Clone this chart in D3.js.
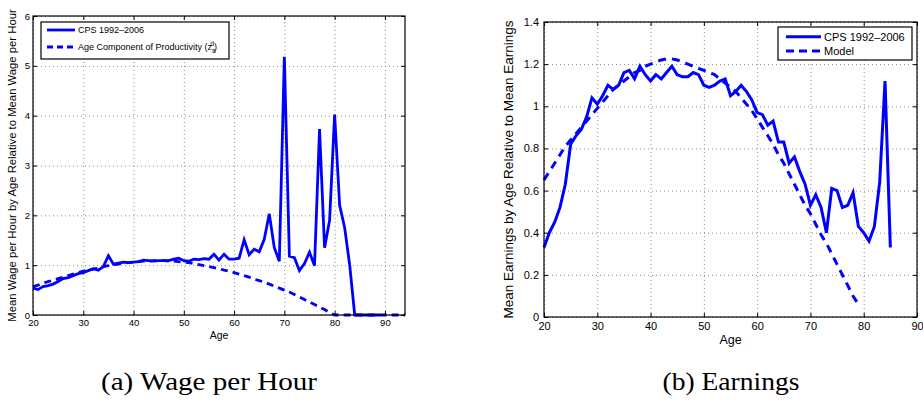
<!DOCTYPE html>
<html lang="en">
<head>
<meta charset="UTF-8">
<title>Wage and earnings by age</title>
<script src="https://d3js.org/d3.v7.min.js"></script>
<style>
  body { margin: 0; background: #fff; }
  svg text { font-family: "Liberation Sans", Arial, sans-serif; fill: #000; }
  .grid line { stroke: #8c8c8c; stroke-dasharray: 1,3; stroke-width: 1; }
  .grid path { display: none; }
  .ax path { display: none; }
  .ax line { stroke: #000; }
  .caption { font-family: "Liberation Serif", "Times New Roman", serif; font-size: 26px; }
</style>
</head>
<body>
<svg width="923" height="400"></svg>
<script>
// ---- data ----
// (a) wage per hour, CPS 1992-2006, ages 20..89
const wageCpsAges = d3.range(20, 90);
const wageCps = [0.54,0.51,0.57,0.59,0.62,0.67,0.73,0.75,0.79,0.83,
                 0.85,0.89,0.93,0.90,0.97,1.19,1.02,1.04,1.06,1.05,
                 1.06,1.07,1.10,1.09,1.08,1.09,1.09,1.09,1.12,1.14,
                 1.09,1.08,1.12,1.11,1.13,1.12,1.22,1.10,1.22,1.12,
                 1.12,1.14,1.51,1.21,1.32,1.27,1.52,2.03,1.35,1.08,
                 5.18,1.18,1.15,0.89,1.03,1.26,0.99,3.73,1.35,1.90,
                 4.02,2.20,1.75,1.00,0.00,0.00,0.00,0.00,0.00,0.00];
// age component of productivity, ages 20..94
const wageModelAges = d3.range(20, 95);
const wageModel = [0.57,0.60,0.64,0.67,0.70,0.73,0.76,0.79,0.82,0.85,
                   0.88,0.90,0.92,0.94,0.97,0.99,1.01,1.02,1.04,1.05,
                   1.06,1.07,1.08,1.08,1.09,1.09,1.09,1.08,1.08,1.07,
                   1.06,1.05,1.03,1.01,0.99,0.97,0.95,0.93,0.90,0.88,
                   0.85,0.82,0.79,0.76,0.72,0.69,0.66,0.62,0.58,0.54,
                   0.50,0.46,0.41,0.36,0.31,0.26,0.21,0.16,0.11,0.05,
                   0,0,0,0,0,0,0,0,0,0,0,0,0,0,0];
// (b) earnings, CPS 1992-2006, ages 20..85
const earnCpsAges = d3.range(20, 86);
const earnCps = [0.33,0.40,0.45,0.52,0.63,0.82,0.86,0.89,0.95,1.04,
                 1.01,1.05,1.10,1.08,1.10,1.16,1.17,1.13,1.19,1.15,
                 1.12,1.15,1.13,1.16,1.19,1.15,1.14,1.14,1.16,1.15,
                 1.10,1.09,1.10,1.12,1.13,1.05,1.07,1.10,1.07,1.03,
                 0.97,0.96,0.91,0.93,0.83,0.83,0.73,0.76,0.69,0.63,
                 0.53,0.58,0.52,0.40,0.61,0.60,0.52,0.53,0.59,0.43,
                 0.40,0.36,0.43,0.64,1.12,0.33];
// model earnings, ages 20..79
const earnModelAges = d3.range(20, 80);
const earnModel = [0.65,0.69,0.73,0.77,0.81,0.84,0.87,0.90,0.93,0.96,
                   0.99,1.02,1.05,1.08,1.10,1.12,1.14,1.16,1.17,1.19,
                   1.20,1.21,1.22,1.225,1.225,1.22,1.21,1.20,1.19,1.18,
                   1.17,1.16,1.15,1.13,1.11,1.09,1.07,1.04,1.01,0.98,
                   0.94,0.90,0.86,0.82,0.77,0.73,0.68,0.63,0.58,0.53,
                   0.49,0.44,0.39,0.35,0.30,0.25,0.20,0.15,0.10,0.06];

const xTicks = [20, 30, 40, 50, 60, 70, 80, 90];
const wageYTicks = [0, 1, 2, 3, 4, 5, 6];
const earnYTicks = [0, 0.2, 0.4, 0.6, 0.8, 1, 1.2, 1.4];

const svg = d3.select("svg");
const blue = "#0000ff";

function panel(o) {
  const x = d3.scaleLinear().domain(o.xDomain).range([o.left, o.right]);
  const y = d3.scaleLinear().domain(o.yDomain).range([o.bottom, o.top]);
  const w = o.right - o.left, h = o.bottom - o.top;
  const g = svg.append("g");

  // dotted grid
  g.append("g").attr("class", "grid")
    .attr("transform", `translate(0,${o.bottom})`)
    .call(d3.axisBottom(x).tickValues(o.xTicks).tickSize(-h).tickFormat(""));
  g.append("g").attr("class", "grid")
    .attr("transform", `translate(${o.left},0)`)
    .call(d3.axisLeft(y).tickValues(o.yTicks).tickSize(-w).tickFormat(""));

  // lines
  const line = d3.line().x(d => x(d[0])).y(d => y(d[1]));
  g.append("path").attr("d", line(d3.zip(o.modelAges, o.model)))
    .attr("fill", "none").attr("stroke", blue).attr("stroke-width", o.lw)
    .attr("stroke-dasharray", o.dash);
  g.append("path").attr("d", line(d3.zip(o.cpsAges, o.cps)))
    .attr("fill", "none").attr("stroke", blue).attr("stroke-width", o.lw)
    .attr("stroke-linejoin", "miter");

  // axes with inward ticks
  const fmt = d3.format("~g");
  const xb = g.append("g").attr("class", "ax").attr("transform", `translate(0,${o.bottom})`)
    .call(d3.axisBottom(x).tickValues(o.xTicks).tickSize(-4).tickPadding(o.xPad).tickFormat(fmt));
  xb.selectAll("text").style("font-size", o.tickFont + "px");
  const yl = g.append("g").attr("class", "ax").attr("transform", `translate(${o.left},0)`)
    .call(d3.axisLeft(y).tickValues(o.yTicks).tickSize(-4).tickPadding(o.yPad).tickFormat(fmt));
  yl.selectAll("text").style("font-size", o.tickFont + "px");
  g.append("g").attr("class", "ax").attr("transform", `translate(0,${o.top})`)
    .call(d3.axisTop(x).tickValues(o.xTicks).tickSize(-4).tickFormat(""));
  g.append("g").attr("class", "ax").attr("transform", `translate(${o.right},0)`)
    .call(d3.axisRight(y).tickValues(o.yTicks).tickSize(-4).tickFormat(""));

  g.append("rect").attr("x", o.left).attr("y", o.top).attr("width", w).attr("height", h)
    .attr("fill", "none").attr("stroke", "#000").attr("stroke-width", 1.2);

  // axis titles
  g.append("text").attr("x", (o.left + o.right) / 2).attr("y", o.xLabelY)
    .attr("text-anchor", "middle").style("font-size", o.labelFont + "px").text("Age");
  g.append("text").attr("transform", `translate(${o.yLabelX},${(o.top + o.bottom) / 2}) rotate(-90)`)
    .attr("text-anchor", "middle").style("font-size", o.yLabelFont + "px").text(o.yLabel);

  // legend
  const L = o.legend;
  const lg = g.append("g");
  lg.append("rect").attr("x", L.x).attr("y", L.y).attr("width", L.w).attr("height", L.h)
    .attr("fill", "#fff").attr("stroke", "#000").attr("stroke-width", 1.2);
  L.rows.forEach((r, i) => {
    const yy = L.y + L.first + i * L.step;
    lg.append("line").attr("x1", L.x + L.l0).attr("x2", L.x + L.l1)
      .attr("y1", yy).attr("y2", yy).attr("stroke", blue).attr("stroke-width", o.lw)
      .attr("stroke-dasharray", r.dashed ? L.dash : null);
    const t = lg.append("text").attr("x", L.x + L.tx).attr("y", yy + L.font * 0.36)
      .style("font-size", L.font + "px");
    r.parts.forEach(p => {
      const s = t.append("tspan").text(p.t);
      if (p.dy) s.attr("dy", p.dy);
      if (p.small) s.style("font-size", (L.font * 0.7) + "px");
      if (p.dx) s.attr("dx", p.dx);
    });
  });

  svg.append("text").attr("class", "caption").attr("x", o.capX).attr("y", 390)
    .attr("text-anchor", "middle")
    .attr("textLength", o.capW).attr("lengthAdjust", "spacingAndGlyphs")
    .text(o.caption);
}

panel({
  xDomain: [20, 94], yDomain: [0, 6], left: 33, right: 405, top: 16, bottom: 315,
  xTicks: xTicks, yTicks: wageYTicks, tickFont: 9.5, xPad: 4, yPad: 3,
  cpsAges: wageCpsAges, cps: wageCps, modelAges: wageModelAges, model: wageModel,
  lw: 2.8, dash: "7,5",
  labelFont: 10.5, xLabelY: 339, yLabelX: 16, yLabelFont: 11.3,
  yLabel: "Mean Wage per Hour by Age Relative to Mean Wage per Hour",
  legend: { x: 41, y: 22, w: 188, h: 37, first: 8, step: 17, l0: 6, l1: 34, tx: 37, font: 9, dash: "6,4",
    rows: [ { parts: [{ t: "CPS 1992\u20132006" }] },
            { dashed: true, parts: [{ t: "Age Component of Productivity (z" },
                                    { t: "a", dy: 3, small: true },
                                    { t: "d", dy: -7, dx: -5, small: true },
                                    { t: ")", dy: 4 }] } ] },
  caption: "(a) Wage per Hour", capX: 209, capW: 216
});

panel({
  xDomain: [20, 90], yDomain: [0, 1.4], left: 544, right: 917, top: 22, bottom: 317,
  xTicks: xTicks, yTicks: earnYTicks, tickFont: 11, xPad: 5, yPad: 5,
  cpsAges: earnCpsAges, cps: earnCps, modelAges: earnModelAges, model: earnModel,
  lw: 3, dash: "8,6",
  labelFont: 12.5, xLabelY: 344, yLabelX: 513, yLabelFont: 13.5,
  yLabel: "Mean Earnings by Age Relative to Mean Earnings",
  legend: { x: 778, y: 27, w: 134, h: 33, first: 9.7, step: 14.3, l0: 8, l1: 43, tx: 46, font: 11, dash: "8,5",
    rows: [ { parts: [{ t: "CPS 1992\u20132006" }] },
            { dashed: true, parts: [{ t: "Model" }] } ] },
  caption: "(b) Earnings", capX: 731, capW: 137
});
</script>
</body>
</html>
